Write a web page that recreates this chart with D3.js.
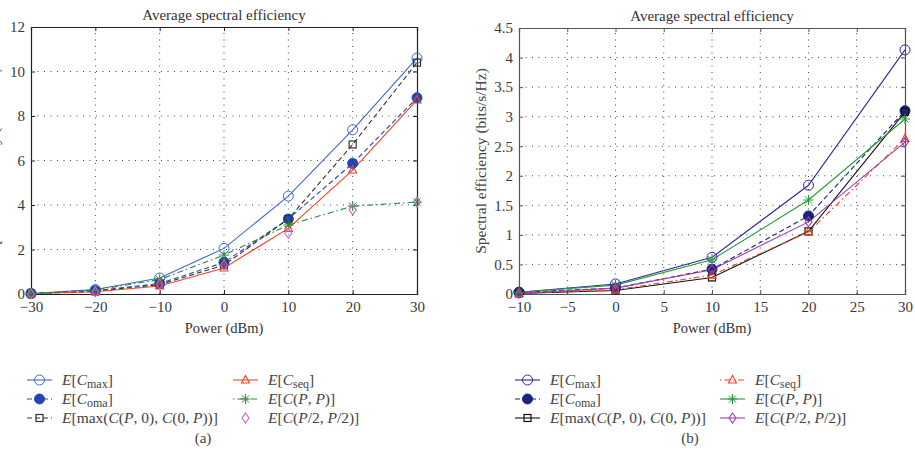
<!DOCTYPE html>
<html><head><meta charset="utf-8">
<script src="https://cdn.jsdelivr.net/npm/d3@7/dist/d3.min.js"></script>
<style>body{margin:0;background:#fff}text{font-family:"Liberation Serif","Times New Roman",serif}</style>
</head><body>
<svg id="c" width="915" height="458"></svg>
<script>
// ---------- Data: panel (a) ----------
const powerA = [-30, -20, -10, 0, 10, 20, 30];
const cmaxA  = [0.02, 0.2, 0.72, 2.05, 4.4, 7.38, 10.6];
const comaA  = [0.02, 0.15, 0.47, 1.42, 3.37, 5.87, 8.82];
const cmaxPA = [0.02, 0.12, 0.42, 1.3, 3.37, 6.72, 10.4];
const cseqA  = [0.01, 0.1, 0.36, 1.17, 2.95, 5.57, 8.72];
const cppA   = [0.02, 0.18, 0.65, 1.75, 3.1, 3.95, 4.13];
const cp2A   = [0.01, 0.1, 0.45, 1.3, 2.73, 3.78, 4.13];
const xTicksA = [-30, -20, -10, 0, 10, 20, 30];
const yTicksA = [0, 2, 4, 6, 8, 10, 12];

// ---------- Data: panel (b) ----------
const powerB = [-10, 0, 10, 20, 30];
const cmaxB  = [0.03, 0.17, 0.62, 1.84, 4.13];
const comaB  = [0.03, 0.1, 0.42, 1.32, 3.1];
const cmaxPB = [0.01, 0.06, 0.28, 1.06, 3.08];
const cseqB  = [0.01, 0.07, 0.32, 1.05, 2.63];
const cppB   = [0.03, 0.15, 0.58, 1.59, 2.96];
const cp2B   = [0.01, 0.1, 0.41, 1.22, 2.57];
const xTicksB = [-10, -5, 0, 5, 10, 15, 20, 25, 30];
const yTicksB = [0, 0.5, 1, 1.5, 2, 2.5, 3, 3.5, 4, 4.5];

const titleText = "Average spectral efficiency";
const xLabel = "Power (dBm)";
const yLabel = "Spectral efficiency (bits/s/Hz)";

const svg = d3.select("#c");
const DASH = "5,3", DASHDOT = "6,3,1.5,3";
const SERIF = "'Liberation Serif', 'Times New Roman', serif";

function marker(g, type, x, y, color, fill) {
  if (type === "circle") {
    g.append("circle").attr("cx", x).attr("cy", y).attr("r", 5)
      .attr("fill", fill ? color : "#fff").attr("fill-opacity", fill ? 1 : 0)
      .attr("stroke", color).attr("stroke-width", 1);
  } else if (type === "square") {
    g.append("rect").attr("x", x - 3.5).attr("y", y - 3.5).attr("width", 7).attr("height", 7)
      .attr("fill", "none").attr("stroke", color).attr("stroke-width", 1.2);
  } else if (type === "triangle") {
    g.append("path").attr("d", `M${x},${y-4.5}L${x+4},${y+3}L${x-4},${y+3}Z`)
      .attr("fill", "none").attr("stroke", color).attr("stroke-width", 1.1);
  } else if (type === "diamond") {
    g.append("path").attr("d", `M${x},${y-5}L${x+3.5},${y}L${x},${y+5}L${x-3.5},${y}Z`)
      .attr("fill", "none").attr("stroke", color).attr("stroke-width", 1.1);
  } else if (type === "star") {
    const s = 5, d = 3.6;
    g.append("path").attr("d", `M${x-s},${y}H${x+s}M${x},${y-s}V${y+s}M${x-d},${y-d}L${x+d},${y+d}M${x-d},${y+d}L${x+d},${y-d}`)
      .attr("fill", "none").attr("stroke", color).attr("stroke-width", 1);
  }
}

function legendLabel(t, parts) {
  parts.forEach(p => {
    const ts = t.append("tspan").text(p.t);
    if (p.i) ts.attr("font-style", "italic");
    if (p.sub) ts.attr("font-size", "12px").attr("dy", p.dy || 0);
    else if (p.dy) ts.attr("dy", p.dy);
  });
}

const labCmax = [{t:"E",i:1},{t:"["},{t:"C",i:1},{t:"max",sub:1,dy:3},{t:"]",dy:-3}];
const labComa = [{t:"E",i:1},{t:"["},{t:"C",i:1},{t:"oma",sub:1,dy:3},{t:"]",dy:-3}];
const labMax  = [{t:"E",i:1},{t:"[max("},{t:"C",i:1},{t:"("},{t:"P",i:1},{t:", 0), "},{t:"C",i:1},{t:"(0, "},{t:"P",i:1},{t:"))]"}];
const labSeq  = [{t:"E",i:1},{t:"["},{t:"C",i:1},{t:"seq",sub:1,dy:3},{t:"]",dy:-3}];
const labPP   = [{t:"E",i:1},{t:"["},{t:"C",i:1},{t:"("},{t:"P",i:1},{t:", "},{t:"P",i:1},{t:")]"}];
const labP2   = [{t:"E",i:1},{t:"["},{t:"C",i:1},{t:"("},{t:"P",i:1},{t:"/2, "},{t:"P",i:1},{t:"/2)]"}];

function panel(cfg) {
  const x = d3.scaleLinear().domain(cfg.xDomain).range([cfg.left, cfg.right]);
  const y = d3.scaleLinear().domain(cfg.yDomain).range([cfg.bottom, cfg.top]);
  const g = svg.append("g");

  // grid
  const grid = g.append("g").attr("stroke", "#444").attr("stroke-width", 1).attr("stroke-dasharray", "1,5.5");
  cfg.xTicks.slice(1, -1).forEach(v => grid.append("line").attr("x1", x(v)).attr("x2", x(v)).attr("y1", cfg.bottom).attr("y2", cfg.top));
  cfg.yTicks.slice(1, -1).forEach(v => grid.append("line").attr("y1", y(v)).attr("y2", y(v)).attr("x1", cfg.left).attr("x2", cfg.right));

  // axes
  const bx = g.append("g").attr("transform", `translate(0,${cfg.bottom})`)
    .call(d3.axisBottom(x).tickValues(cfg.xTicks).tickSize(-4).tickPadding(7).tickFormat(v => v < 0 ? "\u2212" + Math.abs(v) : String(v)));
  const tx = g.append("g").attr("transform", `translate(0,${cfg.top})`)
    .call(d3.axisTop(x).tickValues(cfg.xTicks).tickSize(-4).tickFormat(""));
  const ly = g.append("g").attr("transform", `translate(${cfg.left},0)`)
    .call(d3.axisLeft(y).tickValues(cfg.yTicks).tickSize(-4).tickPadding(6).tickFormat(v => String(v)));
  const ry = g.append("g").attr("transform", `translate(${cfg.right},0)`)
    .call(d3.axisRight(y).tickValues(cfg.yTicks).tickSize(-4).tickFormat(""));
  [bx, tx, ly, ry].forEach(a => {
    a.attr("font-family", SERIF);
    a.select(".domain").attr("stroke", cfg.frame).attr("stroke-width", 1.2);
    a.selectAll(".tick line").attr("stroke", cfg.frame);
    a.selectAll(".tick text").attr("fill", "#3a3a3a").attr("font-size", "15px");
  });

  // series
  cfg.series.forEach(s => {
    const pts = cfg.xData.map((v, i) => [x(v), y(s.values[i])]);
    if (s.line) {
      g.append("path").attr("d", d3.line()(pts)).attr("fill", "none")
        .attr("stroke", s.color).attr("stroke-width", 1.1)
        .attr("stroke-dasharray", s.dash || null);
    }
  });
  cfg.series.forEach(s => {
    const mg = g.append("g");
    cfg.xData.forEach((v, i) => marker(mg, s.marker, x(v), y(s.values[i]), s.color, s.fill));
  });

  // title and labels
  g.append("text").attr("x", (cfg.left + cfg.right) / 2).attr("y", cfg.top - 7)
    .attr("text-anchor", "middle").attr("font-size", "15px").attr("fill", "#333").text(titleText);
  g.append("text").attr("x", (cfg.left + cfg.right) / 2).attr("y", cfg.bottom + 39)
    .attr("text-anchor", "middle").attr("font-size", "14.5px").attr("fill", "#333").text(xLabel);
  g.append("text").attr("transform", `translate(${cfg.yLabX},${(cfg.top + cfg.bottom) / 2})`+" rotate(-90)")
    .attr("text-anchor", "middle").attr("font-size", "15.5px").attr("fill", "#444").text(yLabel);

  // legend
  const rows = [380, 399, 418];
  cfg.series.forEach((s, i) => {
    const col = i < 3 ? 0 : 1, row = i % 3;
    const lx = cfg.legX[col], ly0 = rows[row];
    const lg = g.append("g");
    if (s.legLine) {
      lg.append("line").attr("x1", lx).attr("x2", lx + 25).attr("y1", ly0).attr("y2", ly0)
        .attr("stroke", s.color).attr("stroke-width", 1.1).attr("stroke-dasharray", s.legDash || null);
    }
    marker(lg, s.marker, lx + 12.5, ly0, s.color, s.fill);
    const t = lg.append("text").attr("x", lx + 35).attr("y", ly0 + 5).attr("font-size", "15.5px")
      .attr("fill", "#444");
    legendLabel(t, s.label);
  });
  g.append("text").attr("x", cfg.capX).attr("y", 443).attr("text-anchor", "middle")
    .attr("font-size", "15px").attr("fill", "#444").text(cfg.caption);
}

panel({
  xDomain: [-30, 30], yDomain: [0, 12], left: 31, right: 417, top: 27, bottom: 294,
  xTicks: xTicksA, yTicks: yTicksA, xData: powerA, frame: "#222", yLabX: -1.5,
  legX: [27, 233], capX: 203, caption: "(a)",
  series: [
    {values: cmaxA,  color: "#4167c6", marker: "circle",   fill: false, line: true, dash: null,    legLine: true, legDash: null, label: labCmax},
    {values: comaA,  color: "#2446b0", marker: "circle",   fill: true,  line: true, dash: DASH,    legLine: true, legDash: "5,3", label: labComa},
    {values: cmaxPA, color: "#333333", marker: "square",   fill: false, line: true, dash: DASH,    legLine: true, legDash: "5,3", label: labMax},
    {values: cseqA,  color: "#f0432e", marker: "triangle", fill: false, line: true, dash: null,    legLine: true, legDash: null, label: labSeq},
    {values: cppA,   color: "#2a8a3c", marker: "star",     fill: false, line: true, dash: DASHDOT, legLine: true, legDash: "1.5,3,6,3", label: labPP},
    {values: cp2A,   color: "#c865c8", marker: "diamond",  fill: false, line: false, legLine: false, label: labP2}
  ]
});

panel({
  xDomain: [-10, 30], yDomain: [0, 4.5], left: 519, right: 905, top: 28, bottom: 294,
  xTicks: xTicksB, yTicks: yTicksB, xData: powerB, frame: "#555", yLabX: 486,
  legX: [515, 720], capX: 690, caption: "(b)",
  series: [
    {values: cmaxB,  color: "#2a2a90", marker: "circle",   fill: false, line: true, dash: null,    legLine: true, legDash: null, label: labCmax},
    {values: comaB,  color: "#1a237e", marker: "circle",   fill: true,  line: true, dash: DASH,    legLine: true, legDash: "5,3", label: labComa},
    {values: cmaxPB, color: "#111111", marker: "square",   fill: false, line: true, dash: null,    legLine: true, legDash: null, label: labMax},
    {values: cseqB,  color: "#f0432e", marker: "triangle", fill: false, line: true, dash: DASHDOT, legLine: true, legDash: "1.5,3,6,3", label: labSeq},
    {values: cppB,   color: "#2a9a3c", marker: "star",     fill: false, line: true, dash: null,    legLine: true, legDash: null, label: labPP},
    {values: cp2B,   color: "#a040a8", marker: "diamond",  fill: false, line: true, dash: null,    legLine: true, legDash: null, label: labP2}
  ]
});
</script>
</body></html>
